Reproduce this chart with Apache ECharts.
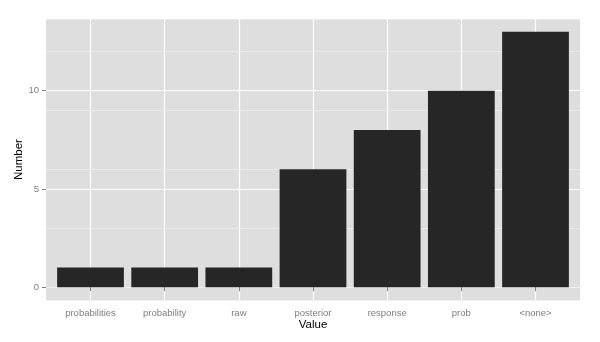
<!DOCTYPE html>
<html>
<head>
<meta charset="utf-8">
<script src="https://cdn.jsdelivr.net/npm/echarts@6/dist/echarts.min.js"></script>
<style>
  html, body { margin: 0; padding: 0; background: #fff; }
  #main { width: 600px; height: 342px; }
</style>
</head>
<body>
<div id="main"></div>
<script>
// categories and counts
const categories = ['probabilities', 'probability', 'raw', 'posterior', 'response', 'prob', '<none>'];
const counts = [1, 1, 1, 6, 8, 10, 13];
const yTicks = [0, 5, 10];
const yMinor = [2.5, 7.5, 12.5];

const positions = categories.map((c, i) => i + 1);
const barData = counts.map((v, i) => [positions[i], v]);

const font = 'Liberation Sans, Arial, sans-serif';
let chartDom = document.getElementById('main');
let myChart = echarts.init(chartDom);
let option;

option = {
  backgroundColor: '#ffffff',
  animation: false,
  grid: {
    left: 46, right: 20, top: 19, bottom: 42,
    outerBoundsMode: 'none',
    containLabel: false,
    show: true,
    backgroundColor: '#dedede',
    borderWidth: 0
  },
  xAxis: {
    type: 'value',
    min: 0.4,
    max: 7.6,
    name: 'Value',
    nameLocation: 'middle',
    nameGap: 19,
    nameMoveOverlap: false,
    nameTextStyle: { color: '#000', fontSize: 11.5, fontFamily: font, verticalAlign: 'top' },
    axisLine: { show: false },
    axisTick: {
      show: true, length: 4, customValues: positions,
      lineStyle: { color: '#7f7f7f', width: 1 }
    },
    axisLabel: {
      customValues: positions,
      margin: 8,
      color: '#7f7f7f',
      fontSize: 9.5,
      fontFamily: font,
      formatter: v => categories[Math.round(v) - 1] || ''
    },
    splitLine: {
      show: true, customValues: positions,
      lineStyle: { color: '#ffffff', width: 1.2 }
    }
  },
  yAxis: [
    {
      type: 'value',
      min: -0.65,
      max: 13.65,
      name: 'Number',
      nameLocation: 'middle',
      nameGap: 21,
      nameMoveOverlap: false,
      nameTextStyle: { color: '#000', fontSize: 11.5, fontFamily: font },
      axisLine: { show: false },
      axisTick: {
        show: true, length: 4, customValues: yTicks,
        lineStyle: { color: '#7f7f7f', width: 1 }
      },
      axisLabel: {
        customValues: yTicks,
        margin: 7,
        color: '#7f7f7f',
        fontSize: 9.5,
        fontFamily: font
      },
      splitLine: {
        show: true, customValues: yTicks,
        lineStyle: { color: '#ffffff', width: 1.2 }
      }
    },
    {
      type: 'value',
      min: -0.65,
      max: 13.65,
      position: 'left',
      axisLine: { show: false },
      axisTick: { show: false },
      axisLabel: { show: false },
      splitLine: {
        show: true, customValues: yMinor,
        lineStyle: { color: '#ececec', width: 0.8 }
      }
    }
  ],
  series: [
    {
      type: 'bar',
      barWidth: 66.75,
      itemStyle: { color: '#262626' },
      data: barData
    }
  ]
};

option && myChart.setOption(option);
window.addEventListener('resize', () => {
  myChart.resize();
});
</script>
</body>
</html>
